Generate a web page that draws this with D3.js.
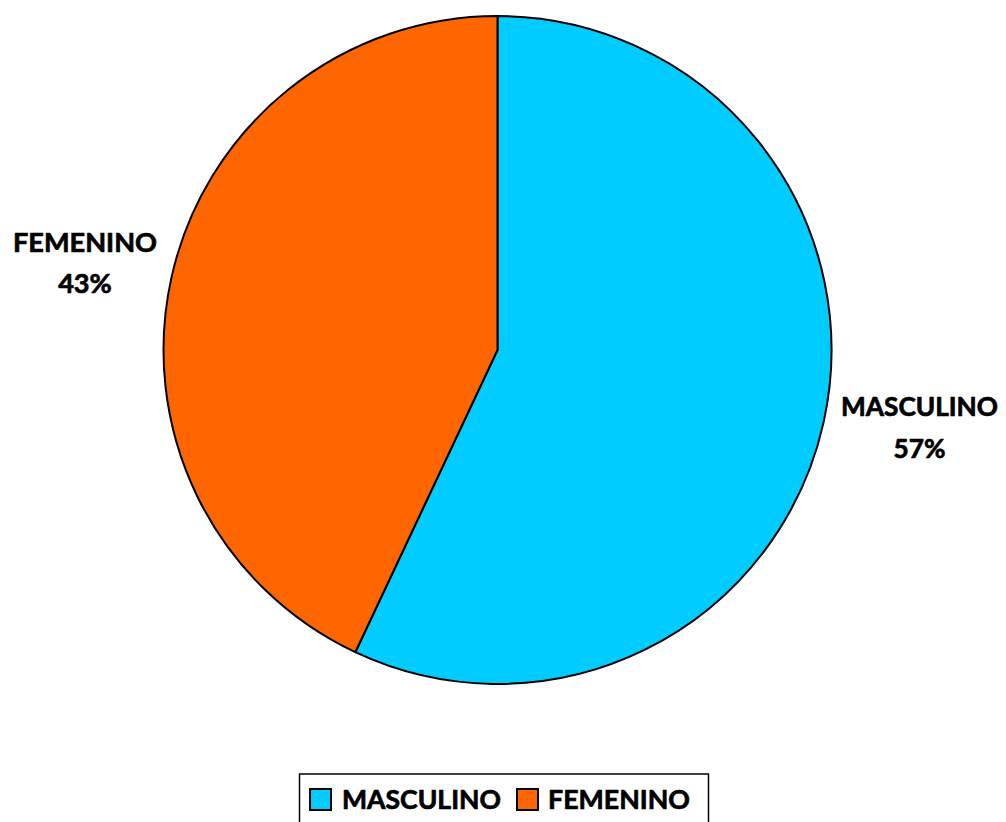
<!DOCTYPE html>
<html><head><meta charset="utf-8">
<script src="https://cdn.jsdelivr.net/npm/d3@7"></script>
<style>html,body{margin:0;padding:0;background:#fff;overflow:hidden}</style>
</head><body>
<svg id="c" width="1006" height="822"></svg>
<script>
const categories = ["MASCULINO", "FEMENINO"];
const values = [57, 43];
const labels = ["57%", "43%"];
const colors = ["#00CCFF", "#FF6600"];

const svg = d3.select("#c");
const cx = 497.5, cy = 350, r = 334;
const FONT = "Lato, 'Liberation Sans', sans-serif";

const pie = d3.pie().sort(null).value(d => d.v);
const data = categories.map((c, i) => ({c, v: values[i], l: labels[i], col: colors[i]}));
const arcs = pie(data);
const arc = d3.arc().innerRadius(0).outerRadius(r);

const g = svg.append("g").attr("transform", `translate(${cx},${cy})`);
g.selectAll("path").data(arcs).join("path")
  .attr("d", arc).attr("fill", d => d.data.col)
  .attr("stroke", "#000").attr("stroke-width", 2).attr("stroke-linejoin", "round");

function fit(sel, w) {
  const n = sel.node();
  const l = n.getComputedTextLength();
  const fs = parseFloat(sel.attr("font-size"));
  sel.attr("font-size", fs * w / l);
}
function heavy(sel) {
  return sel.attr("stroke", "#000").attr("stroke-width", 0.7).attr("stroke-linejoin", "round");
}

// data labels
const labelPos = [
  {x: 919.5, y1: 416, y2: 458, w: 157},
  {x: 85, y1: 252, y2: 293, w: 144}
];
arcs.forEach((a, i) => {
  const p = labelPos[i];
  const t1 = svg.append("text").attr("x", p.x).attr("y", p.y1)
    .attr("text-anchor", "middle").attr("font-family", FONT).attr("font-weight", "bold")
    .attr("font-size", 26).attr("fill", "#000").text(a.data.c);
  fit(t1, p.w);
  heavy(t1);
  heavy(svg.append("text").attr("x", p.x).attr("y", p.y2)
    .attr("text-anchor", "middle").attr("font-family", FONT).attr("font-weight", "bold")
    .attr("font-size", t1.attr("font-size")).attr("fill", "#000").text(a.data.l));
});

// legend
svg.append("rect").attr("x", 299.5).attr("y", 774).attr("width", 409).attr("height", 80)
  .attr("fill", "#fff").attr("stroke", "#000").attr("stroke-width", 1.5);
const legItems = [
  {sx: 310, tx: 342, w: 159},
  {sx: 517, tx: 548, w: 142}
];
data.forEach((d, i) => {
  const it = legItems[i];
  svg.append("rect").attr("x", it.sx).attr("y", 789).attr("width", 21).attr("height", 21)
    .attr("fill", d.col).attr("stroke", "#000").attr("stroke-width", 2);
  const t = svg.append("text").attr("x", it.tx).attr("y", 809)
    .attr("font-family", FONT).attr("font-weight", "bold").attr("font-size", 26)
    .attr("fill", "#000").text(d.c);
  fit(t, it.w);
  heavy(t);
});
</script>
</body></html>
